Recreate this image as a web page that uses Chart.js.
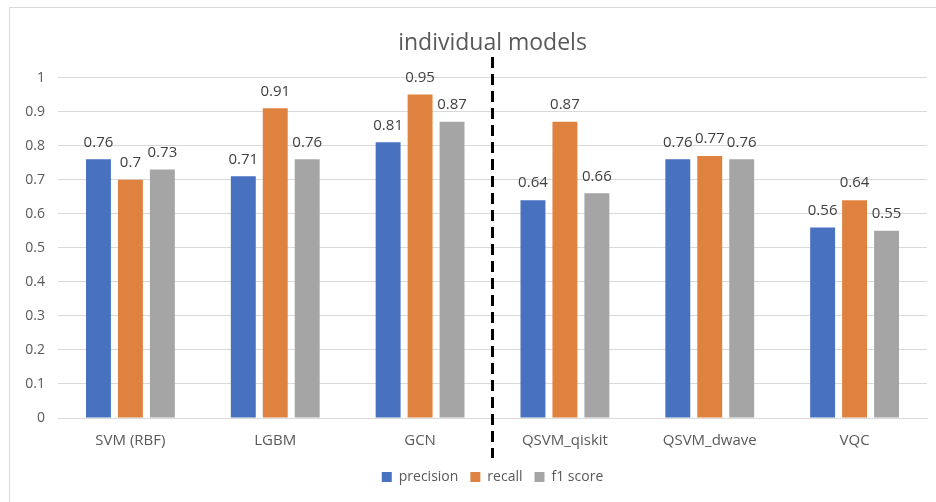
<!DOCTYPE html>
<html>
<head>
<meta charset="utf-8">
<script src="https://cdn.jsdelivr.net/npm/chart.js@4.4.1/dist/chart.umd.min.js"></script>
<style>
  html, body { margin: 0; padding: 0; background: #fff; overflow: hidden; }
  #wrap { position: relative; width: 936px; height: 502px; }
  #frame { position: absolute; left: 9px; top: 7px; width: 1000px; height: 600px; border: 1px solid #d9d9d9; box-sizing: border-box; }
  canvas { position: absolute; left: 0; top: 0; }
</style>
</head>
<body>
<div id="wrap">
  <div id="frame"></div>
  <canvas id="c" width="936" height="502"></canvas>
</div>
<script>
const categories = ["SVM (RBF)", "LGBM", "GCN", "QSVM_qiskit", "QSVM_dwave", "VQC"];
const precision = [0.76, 0.71, 0.81, 0.64, 0.76, 0.56];
const recall = [0.70, 0.91, 0.95, 0.87, 0.77, 0.64];
const f1score = [0.73, 0.76, 0.87, 0.66, 0.76, 0.55];
const yTicks = [0, 0.1, 0.2, 0.3, 0.4, 0.5, 0.6, 0.7, 0.8, 0.9, 1];
const seriesNames = ["precision", "recall", "f1 score"];
const seriesColors = ["#4872C0", "#E0823F", "#A5A5A5"];
const dividerAfterIndex = 2;

const FONT = "'Open Sans', 'Noto Sans', sans-serif";

const labelPlugin = {
  id: 'barLabels',
  afterDatasetsDraw(chart) {
    const ctx = chart.ctx;
    ctx.save();
    ctx.font = "15px " + FONT;
    ctx.fillStyle = "#404040";
    ctx.textAlign = "center";
    ctx.textBaseline = "middle";
    chart.data.datasets.forEach((ds, i) => {
      const meta = chart.getDatasetMeta(i);
      meta.data.forEach((bar, j) => {
        ctx.fillText(String(ds.data[j]), bar.x, bar.y - 17);
      });
    });
    ctx.restore();
  }
};

const dividerPlugin = {
  id: 'divider',
  afterDraw(chart) {
    const xs = chart.scales.x;
    const x = (xs.getPixelForValue(dividerAfterIndex) + xs.getPixelForValue(dividerAfterIndex + 1)) / 2;
    const ctx = chart.ctx;
    ctx.save();
    ctx.strokeStyle = "#000";
    ctx.lineWidth = 3;
    ctx.setLineDash([11, 6]);
    ctx.beginPath();
    ctx.moveTo(x, 57);
    ctx.lineTo(x, 458);
    ctx.stroke();
    ctx.restore();
  }
};

new Chart(document.getElementById('c'), {
  type: 'bar',
  data: {
    labels: categories,
    datasets: [
      { label: seriesNames[0], data: precision, backgroundColor: seriesColors[0] },
      { label: seriesNames[1], data: recall, backgroundColor: seriesColors[1] },
      { label: seriesNames[2], data: f1score, backgroundColor: seriesColors[2] }
    ]
  },
  options: {
    responsive: false,
    animation: false,
    devicePixelRatio: 1,
    datasets: { bar: { categoryPercentage: 0.662, barPercentage: 0.78, borderWidth: 0 } },
    layout: { padding: { left: 0, right: 9, top: 0, bottom: 8 } },
    plugins: {
      title: {
        display: true,
        text: "individual models",
        fullSize: false,
        color: "#595959",
        font: { family: FONT, size: 23, weight: 'normal' },
        padding: { top: 30, bottom: 20 }
      },
      legend: {
        position: 'bottom',
        fullSize: false,
        labels: {
          color: "#595959",
          font: { family: FONT, size: 14 },
          boxWidth: 10,
          boxHeight: 10,
          padding: 12
        }
      },
      tooltip: { enabled: false }
    },
    scales: {
      x: {
        grid: { display: false, drawTicks: false },
        border: { display: true, color: "#d9d9d9", width: 1 },
        ticks: { color: "#595959", font: { family: FONT, size: 15 }, padding: 14, maxRotation: 0 },
        afterFit(s) { s.height = 40; }
      },
      y: {
        min: 0, max: 1,
        afterBuildTicks(s) { s.ticks = yTicks.map(v => ({ value: v })); },
        grid: { color: "#d9d9d9", drawTicks: false },
        border: { display: false },
        ticks: {
          color: "#595959",
          font: { family: FONT, size: 14 },
          padding: 13,
          callback: v => String(Math.round(v * 10) / 10)
        },
        afterFit(s) { s.width = 58; }
      }
    }
  },
  plugins: [labelPlugin, dividerPlugin]
});
</script>
</body>
</html>
